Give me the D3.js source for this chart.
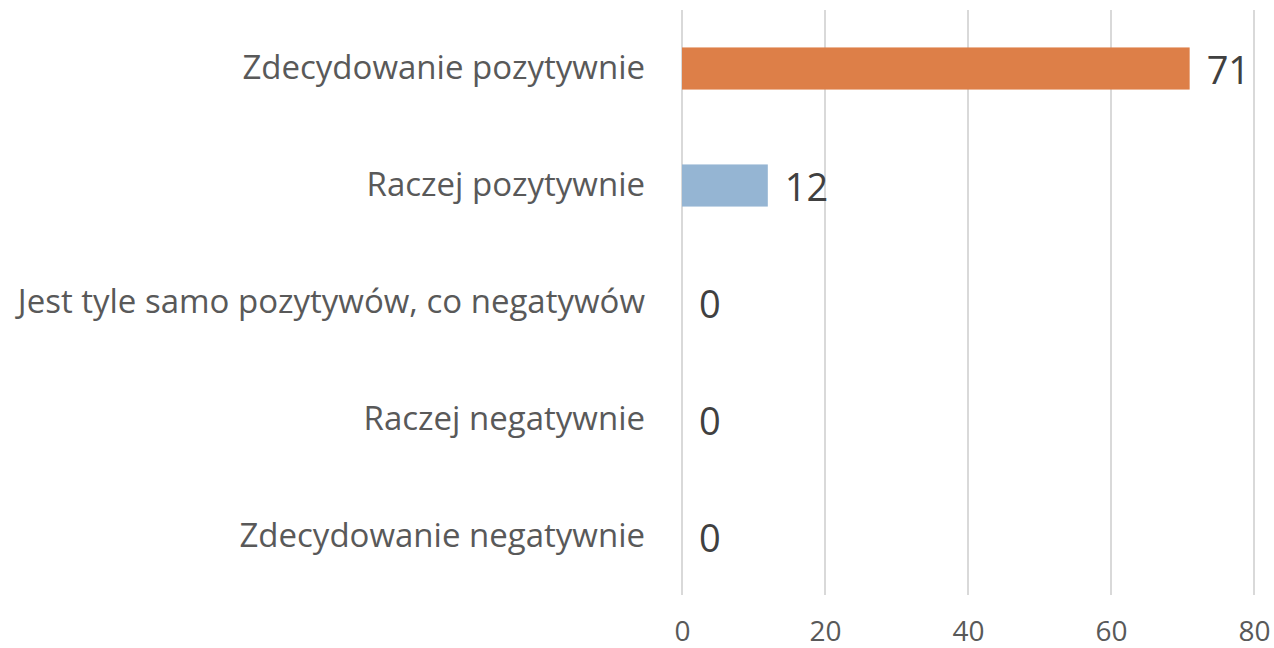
<!DOCTYPE html>
<html><head><meta charset="utf-8">
<script src="https://cdn.jsdelivr.net/npm/d3@7"></script>
<style>body{margin:0;background:#fff}svg{display:block}</style>
</head><body><svg id="c" width="1274" height="648"></svg>
<script>
const categories = ["Zdecydowanie pozytywnie","Raczej pozytywnie","Jest tyle samo pozytywów, co negatywów","Raczej negatywnie","Zdecydowanie negatywnie"];
const values = [71, 12, 0, 0, 0];
const barColors = ["#DD7F48","#95B5D3","#95B5D3","#95B5D3","#95B5D3"];
const xTicks = [0, 20, 40, 60, 80];

const svg = d3.select("#c");
const m = {left:682, right:1254, top:10, bottom:595};
const x = d3.scaleLinear().domain([0,80]).range([m.left, m.right]);
const y = d3.scaleBand().domain(categories).range([m.top, m.bottom]).paddingInner(0.64).paddingOuter(0.32);
const font = "'Open Sans', sans-serif";

svg.append("g").selectAll("line").data(xTicks).join("line")
  .attr("x1", d=>x(d)).attr("x2", d=>x(d)).attr("y1", m.top).attr("y2", m.bottom)
  .attr("stroke","#d9d9d9").attr("stroke-width",2);

const xAxis = svg.append("g").attr("transform",`translate(0,${m.bottom})`)
  .call(d3.axisBottom(x).tickValues(xTicks).tickSize(0).tickPadding(0));
xAxis.select(".domain").remove();
xAxis.selectAll("text").attr("font-family",font).attr("font-size",28).attr("fill","#595959")
  .attr("dy",null).attr("y",46);

const bandY = d => y(d) + y.bandwidth()/2;
svg.append("g").selectAll("rect").data(categories).join("rect")
  .attr("x", x(0)).attr("y", d=>y(d)).attr("height", y.bandwidth())
  .attr("width", (d,i)=>x(values[i])-x(0)).attr("fill",(d,i)=>barColors[i]);

svg.append("g").selectAll("text").data(categories).join("text")
  .attr("x", 645).attr("y", d=>bandY(d)+10).attr("text-anchor","end")
  .attr("font-family",font).attr("font-size",33).attr("fill","#595959").text(d=>d);

svg.append("g").selectAll("text").data(categories).join("text")
  .attr("x", (d,i)=>x(values[i])+17).attr("y", d=>bandY(d)+15)
  .attr("font-family",font).attr("font-size",38).attr("fill","#404040").text((d,i)=>values[i]);
</script></body></html>
